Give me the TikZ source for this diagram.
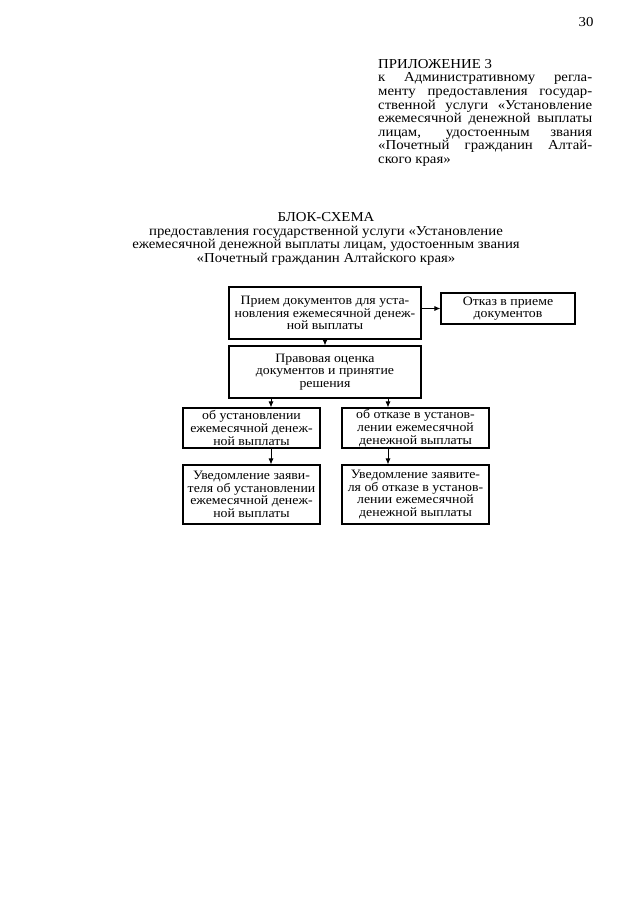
\documentclass[tikz,border=0pt]{standalone}
\usepackage{fontspec}
\setmainfont{Liberation Serif}[FakeStretch=1.08]
\usetikzlibrary{arrows.meta}
\begin{document}
\begin{tikzpicture}[x=1pt,y=-1pt,
  every node/.style={font=\fontsize{12.8}{12.7}\selectfont},
  headtext/.style={font=\fontsize{13.7}{13.6}\selectfont,inner sep=0pt},
  blockbox/.style={draw,line width=1.1pt,align=center,inner sep=1pt},
  arr/.style={line width=0.9pt,-{Latex[length=6pt,width=5pt]}}]
\useasboundingbox (0,0) rectangle (640,905);
\node[headtext] (page) at (586,22) {30};
\node[headtext,anchor=north west,text width=214pt,align=justify] (annex) at (378,59)
  {ПРИЛОЖЕНИЕ 3\\
   к Административному регла-\linebreak
   менту предоставления государ-\linebreak
   ственной услуги «Установление\linebreak
   ежемесячной денежной выплаты\linebreak
   лицам, удостоенным звания\linebreak
   «Почетный гражданин Алтай-\linebreak
   ского края»};
\node[headtext,align=center] (title) at (326,239)
  {БЛОК-СХЕМА\\
   предоставления государственной услуги «Установление\\
   ежемесячной денежной выплаты лицам, удостоенным звания\\
   «Почетный гражданин Алтайского края»};
\node[blockbox,minimum width=192,minimum height=52] (priem) at (325,313)
  {Прием документов для уста-\\новления ежемесячной денеж-\\ной выплаты};
\node[blockbox,minimum width=134,minimum height=31] (otkaz) at (508,308.5)
  {Отказ в приеме\\документов};
\node[blockbox,minimum width=192,minimum height=52] (pravo) at (325,372)
  {Правовая оценка\\документов и принятие\\решения};
\node[blockbox,minimum width=137,minimum height=40] (ustan) at (251.5,428)
  {об установлении\\ежемесячной денеж-\\ной выплаты};
\node[blockbox,minimum width=147,minimum height=40] (otkust) at (415.5,428)
  {об отказе в установ-\\лении ежемесячной\\денежной выплаты};
\node[blockbox,minimum width=137,minimum height=59] (uvust) at (251.5,494.5)
  {Уведомление заяви-\\теля об установлении\\ежемесячной денеж-\\ной выплаты};
\node[blockbox,minimum width=147,minimum height=59] (uvotk) at (415.5,494.5)
  {Уведомление заявите-\\ля об отказе в установ-\\лении ежемесячной\\денежной выплаты};
\coordinate (lA) at (271,0);
\coordinate (lB) at (388,0);
\draw[arr] (otkaz.west -| priem.east) -- (otkaz.west);
\draw[arr] (priem.south) -- (pravo.north);
\draw[arr] (lA |- pravo.south) -- (lA |- ustan.north);
\draw[arr] (lB |- pravo.south) -- (lB |- otkust.north);
\draw[arr] (lA |- ustan.south) -- (lA |- uvust.north);
\draw[arr] (lB |- otkust.south) -- (lB |- uvotk.north);
\end{tikzpicture}
\end{document}
